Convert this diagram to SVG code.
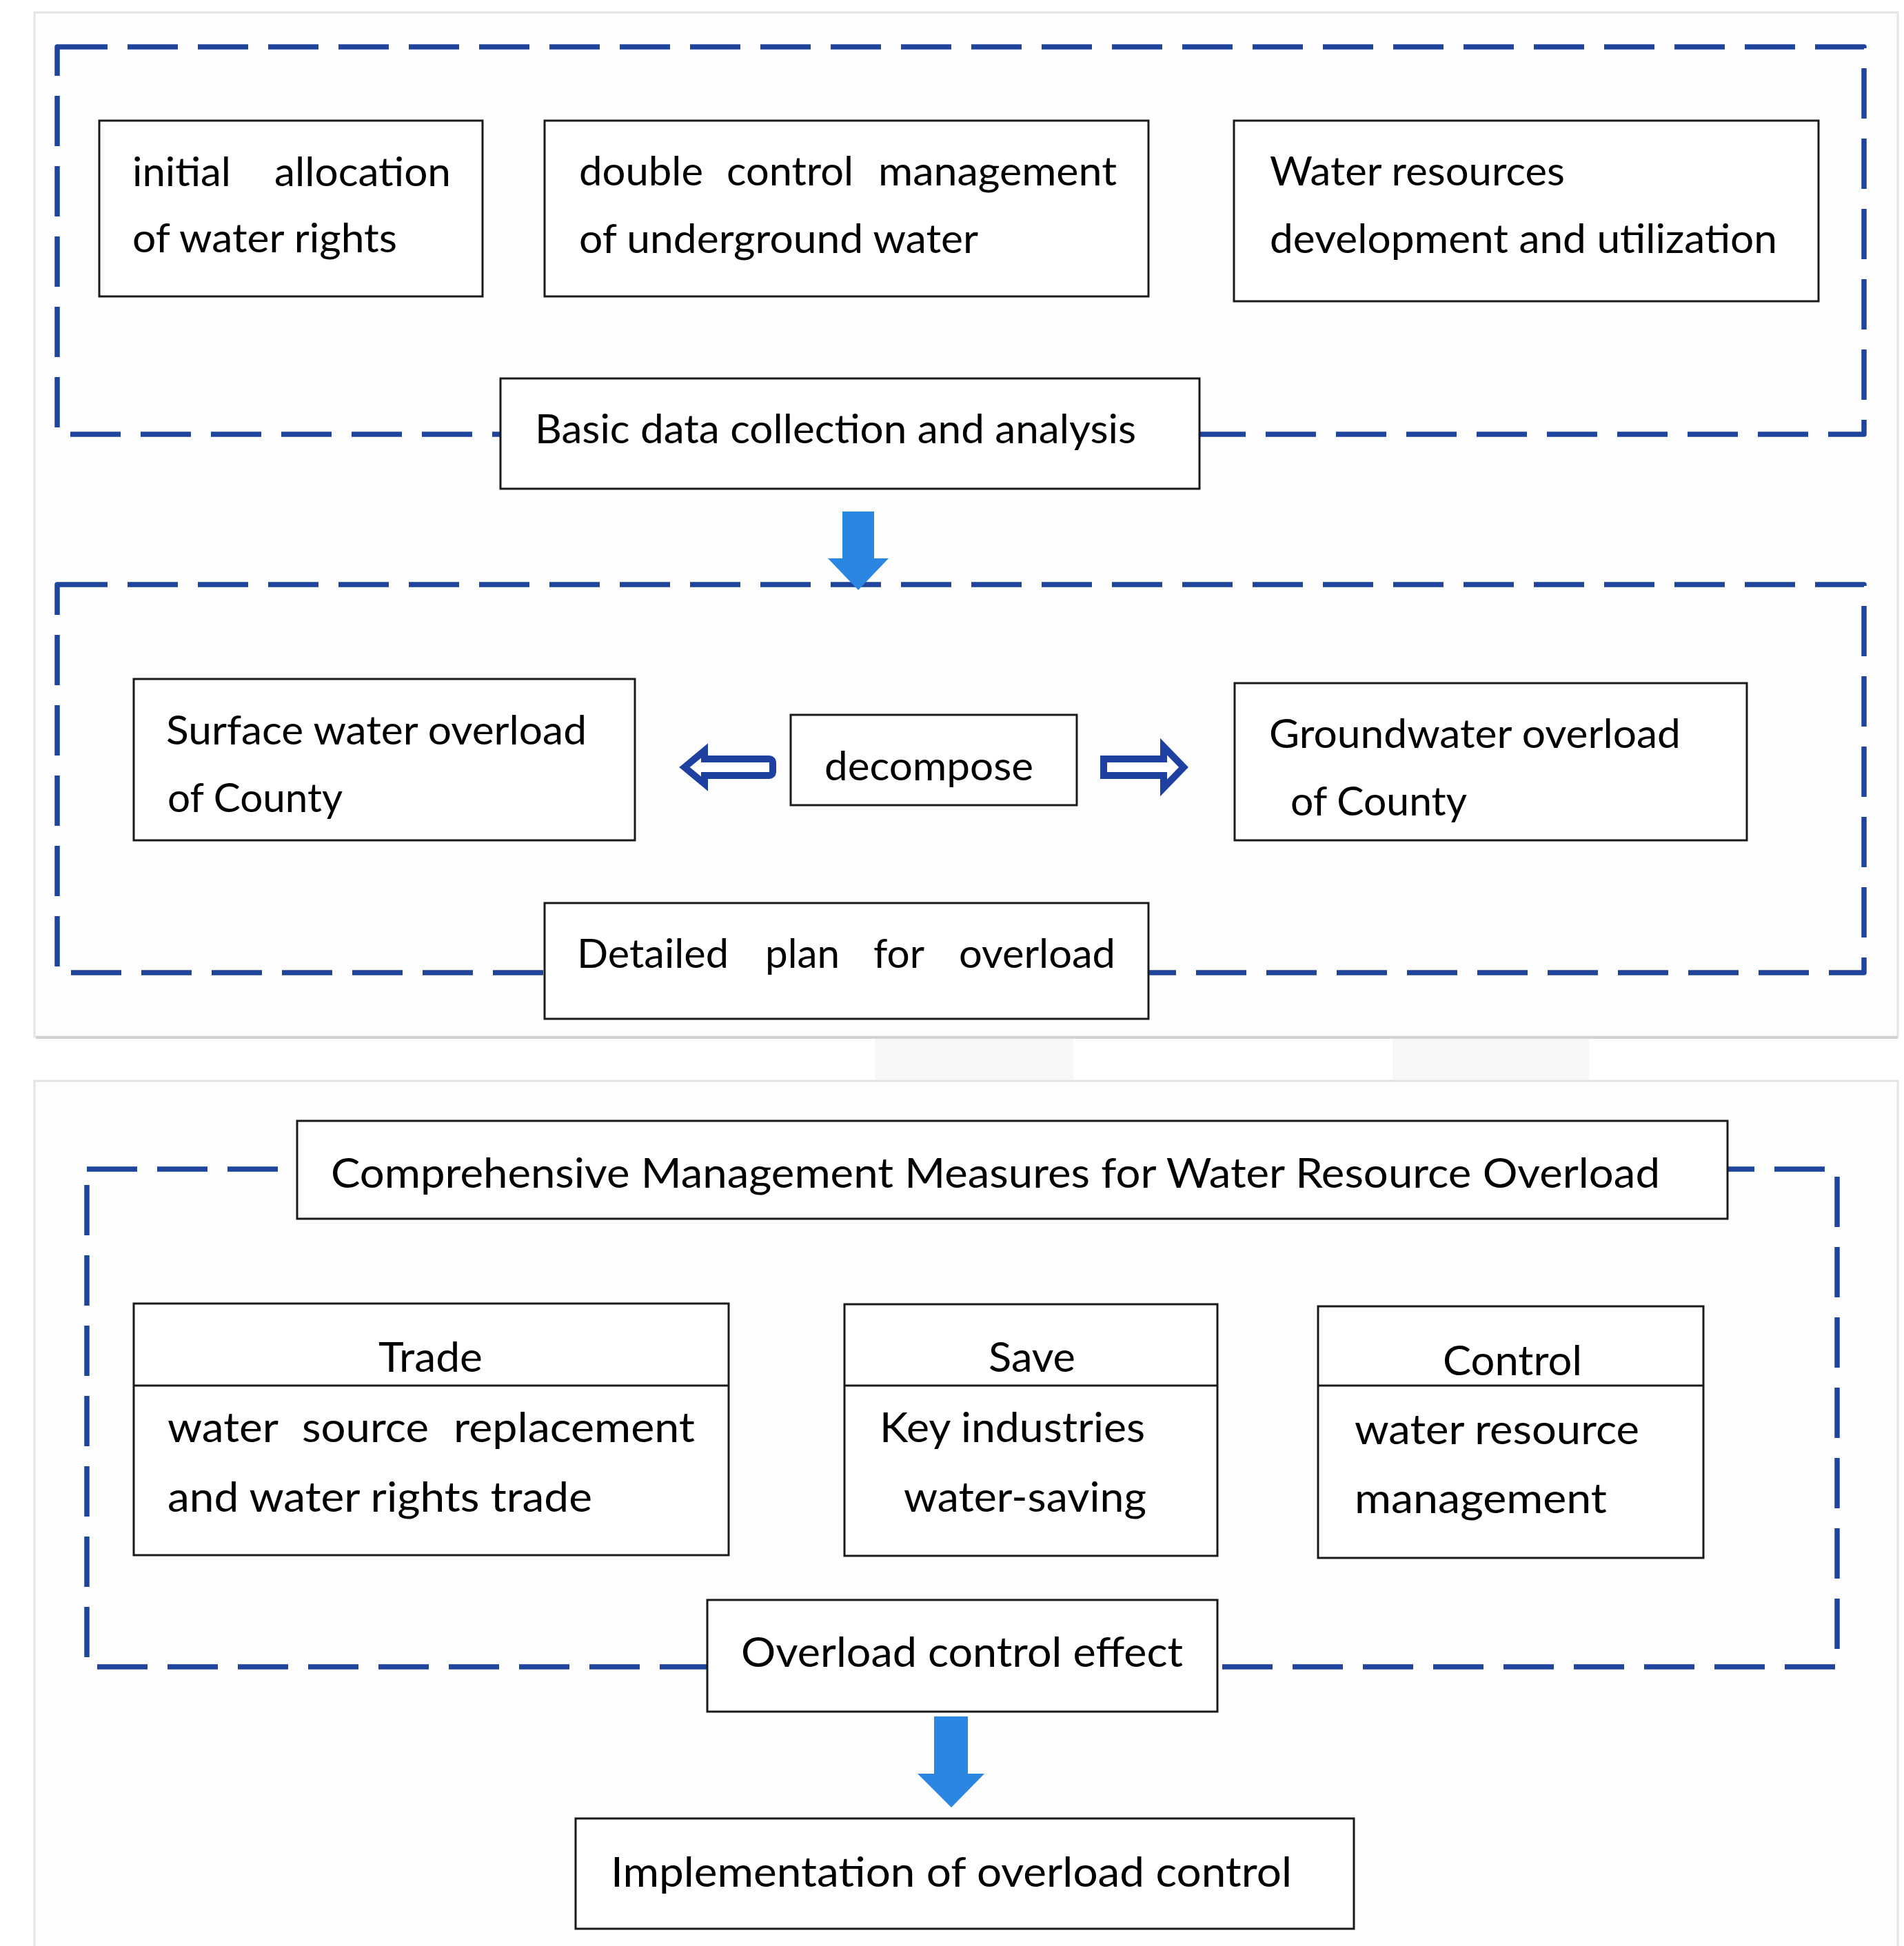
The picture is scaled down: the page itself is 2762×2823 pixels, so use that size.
<svg xmlns="http://www.w3.org/2000/svg" width="2762" height="2823" viewBox="0 0 2762 2823">
<style>
.panel{fill:#fdfdfd;stroke:#e4e4e4;stroke-width:3}
.frame{fill:none;stroke:#1f449c;stroke-width:7.5;stroke-dasharray:73 29;stroke-linejoin:round}
.box{fill:#ffffff;stroke:#1a1a1a;stroke-width:3}
.div{stroke:#1a1a1a;stroke-width:3}
.t{font-family:Lato,"Open Sans","Liberation Sans",sans-serif;font-size:58px;fill:#000000}
.tb{font-family:Lato,"Open Sans","Liberation Sans",sans-serif;font-size:60px;fill:#000000}
.big{fill:#2b86e2}
.hollow{fill:#ffffff;stroke:#1e40a0;stroke-width:10;stroke-linejoin:miter}
</style>
<rect width="2762" height="2823" fill="#ffffff"/>
<g id="background">
<rect x="1269" y="1503" width="288" height="63" fill="#f7f7f7"/>
<rect x="2020" y="1503" width="285" height="63" fill="#f7f7f7"/>
<rect class="panel" x="50" y="18" width="2703" height="1486"/>
<line x1="52" y1="1505" x2="2753" y2="1505" stroke="#d2d2d2" stroke-width="4"/>
<rect class="panel" x="50" y="1568" width="2703" height="1270"/>
</g>
<g id="frames">
<path class="frame" d="M83,68 H2704 V630 H83 Z"/>
<path class="frame" d="M83,848 H2704 V1411 H83 Z"/>
<path class="frame" d="M126,1696 H2665 V2418 H126 Z"/>
</g>
<g id="connectors">
<path id="arrow-down-1" class="big" d="M1222,742 H1268 V810 H1289 L1245,856 L1201,810 H1222 Z"/>
<path id="arrow-left" class="hollow" d="M993,1113 L1022,1089 V1101 H1115 Q1121,1101 1121,1107 V1119 Q1121,1125 1115,1125 H1022 V1137 Z"/>
<path id="arrow-right" class="hollow" d="M1601,1101 H1688 V1083 L1717,1113 L1688,1143 V1125 H1601 Z"/>
<path id="arrow-down-2" class="big" d="M1355,2490 H1404 V2573 H1428 L1380,2622 L1331,2573 H1355 Z"/>
</g>
<g id="node-initial-allocation">
<rect class="box" x="144" y="175" width="556" height="255"/>
<text class="t" x="192" y="270" textLength="143" lengthAdjust="spacingAndGlyphs">initial</text>
<text class="t" x="398" y="270" textLength="256" lengthAdjust="spacingAndGlyphs">allocation</text>
<text class="t" x="192" y="366" textLength="384" lengthAdjust="spacingAndGlyphs">of water rights</text>
</g>
<g id="node-double-control">
<rect class="box" x="790" y="175" width="876" height="255"/>
<text class="t" x="840" y="269" textLength="180" lengthAdjust="spacingAndGlyphs">double</text>
<text class="t" x="1054" y="269" textLength="184" lengthAdjust="spacingAndGlyphs">control</text>
<text class="t" x="1274" y="269" textLength="346" lengthAdjust="spacingAndGlyphs">management</text>
<text class="t" x="840" y="367" textLength="579" lengthAdjust="spacingAndGlyphs">of underground water</text>
</g>
<g id="node-water-resources">
<rect class="box" x="1790" y="175" width="848" height="262"/>
<text class="t" x="1842" y="269" textLength="428" lengthAdjust="spacingAndGlyphs">Water resources</text>
<text class="t" x="1842" y="367" textLength="736" lengthAdjust="spacingAndGlyphs">development and utilization</text>
</g>
<g id="node-basic-data">
<rect class="box" x="726" y="549" width="1014" height="160"/>
<text class="t" x="776" y="643" textLength="872" lengthAdjust="spacingAndGlyphs">Basic data collection and analysis</text>
</g>
<g id="node-surface-water">
<rect class="box" x="194" y="985" width="727" height="234"/>
<text class="t" x="241" y="1080" textLength="610" lengthAdjust="spacingAndGlyphs">Surface water overload</text>
<text class="t" x="243" y="1178" textLength="254" lengthAdjust="spacingAndGlyphs">of County</text>
</g>
<g id="node-decompose">
<rect class="box" x="1147" y="1037" width="415" height="131"/>
<text class="t" x="1196" y="1132" textLength="303" lengthAdjust="spacingAndGlyphs">decompose</text>
</g>
<g id="node-groundwater">
<rect class="box" x="1791" y="991" width="743" height="228"/>
<text class="t" x="1841" y="1085" textLength="597" lengthAdjust="spacingAndGlyphs">Groundwater overload</text>
<text class="t" x="1872" y="1183" textLength="256" lengthAdjust="spacingAndGlyphs">of County</text>
</g>
<g id="node-detailed-plan">
<rect class="box" x="790" y="1310" width="876" height="168"/>
<text class="t" x="837" y="1404" textLength="220" lengthAdjust="spacingAndGlyphs">Detailed</text>
<text class="t" x="1110" y="1404" textLength="108" lengthAdjust="spacingAndGlyphs">plan</text>
<text class="t" x="1267" y="1404" textLength="74" lengthAdjust="spacingAndGlyphs">for</text>
<text class="t" x="1391" y="1404" textLength="227" lengthAdjust="spacingAndGlyphs">overload</text>
</g>
<g id="node-comprehensive">
<rect class="box" x="431" y="1626" width="2075" height="142"/>
<text class="tb" x="480" y="1723" textLength="1928" lengthAdjust="spacingAndGlyphs">Comprehensive Management Measures for Water Resource Overload</text>
</g>
<g id="node-trade">
<rect class="box" x="194" y="1891" width="863" height="365"/>
<line class="div" x1="194" y1="2010" x2="1057" y2="2010"/>
<text class="tb" x="549" y="1990" textLength="151" lengthAdjust="spacingAndGlyphs">Trade</text>
<text class="tb" x="243" y="2092" textLength="161" lengthAdjust="spacingAndGlyphs">water</text>
<text class="tb" x="438" y="2092" textLength="184" lengthAdjust="spacingAndGlyphs">source</text>
<text class="tb" x="658" y="2092" textLength="350" lengthAdjust="spacingAndGlyphs">replacement</text>
<text class="tb" x="243" y="2193" textLength="616" lengthAdjust="spacingAndGlyphs">and water rights trade</text>
</g>
<g id="node-save">
<rect class="box" x="1225" y="1892" width="541" height="365"/>
<line class="div" x1="1225" y1="2010" x2="1766" y2="2010"/>
<text class="tb" x="1434" y="1990" textLength="126" lengthAdjust="spacingAndGlyphs">Save</text>
<text class="tb" x="1276" y="2092" textLength="385" lengthAdjust="spacingAndGlyphs">Key industries</text>
<text class="tb" x="1311" y="2193" textLength="352" lengthAdjust="spacingAndGlyphs">water-saving</text>
</g>
<g id="node-control">
<rect class="box" x="1912" y="1895" width="559" height="365"/>
<line class="div" x1="1912" y1="2010" x2="2471" y2="2010"/>
<text class="tb" x="2093" y="1995" textLength="202" lengthAdjust="spacingAndGlyphs">Control</text>
<text class="tb" x="1965" y="2095" textLength="413" lengthAdjust="spacingAndGlyphs">water resource</text>
<text class="tb" x="1965" y="2195" textLength="366" lengthAdjust="spacingAndGlyphs">management</text>
</g>
<g id="node-overload-effect">
<rect class="box" x="1026" y="2321" width="740" height="162"/>
<text class="tb" x="1075" y="2418" textLength="641" lengthAdjust="spacingAndGlyphs">Overload control effect</text>
</g>
<g id="node-implementation">
<rect class="box" x="835" y="2638" width="1129" height="160"/>
<text class="tb" x="886" y="2737" textLength="988" lengthAdjust="spacingAndGlyphs">Implementation of overload control</text>
</g>
</svg>
